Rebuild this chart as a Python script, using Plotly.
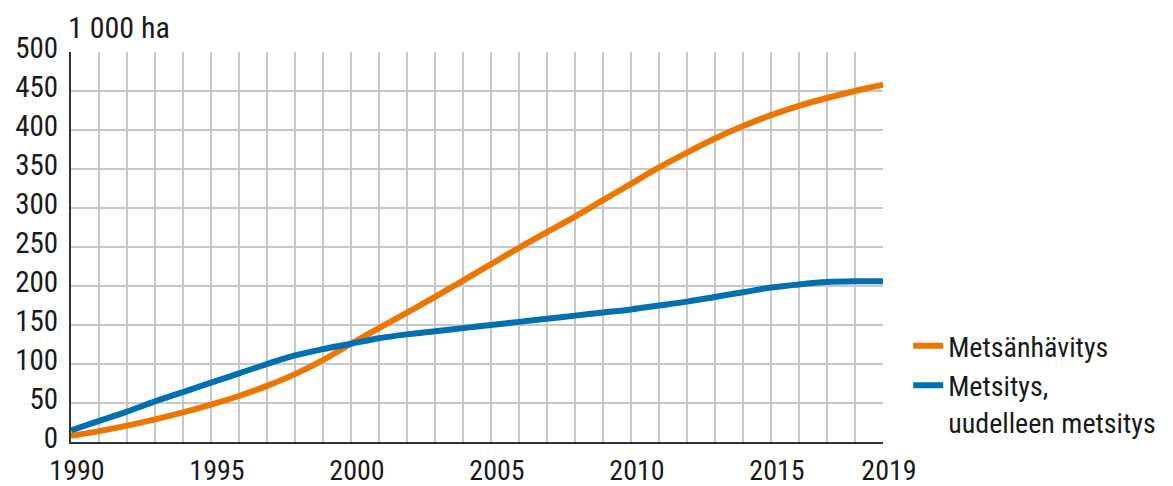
import plotly.graph_objects as go

years = list(range(1990, 2020))
metsanhavitys = [8, 14, 21, 29, 38, 48, 59, 72, 87, 105, 126, 146, 166, 186, 207,
                 228, 249, 269, 289, 310, 331, 352, 371, 389, 405, 419, 431, 441, 450, 458]
metsitys = [15, 27, 39, 52, 64, 76, 88, 100, 111, 119, 126, 133, 138, 142, 146,
            150, 154, 158, 162, 166, 170, 175, 180, 186, 192, 198, 202, 205, 206, 206]
x_labels = {1990: "1990", 1995: "1995", 2000: "2000", 2005: "2005",
            2010: "2010", 2015: "2015", 2019: "2019"}
y_ticks = list(range(0, 501, 50))

FONT = "Liberation Sans Narrow, Roboto Condensed, Arial Narrow, Liberation Sans, sans-serif"

fig = go.Figure()
fig.add_trace(go.Scatter(x=years, y=metsanhavitys, mode="lines", name="Metsänhävitys",
                         line=dict(color="#ec7600", width=6, shape="spline", smoothing=1.0)))
fig.add_trace(go.Scatter(x=years, y=metsitys, mode="lines", name="Metsitys,<br>uudelleen metsitys",
                         line=dict(color="#0070b0", width=6, shape="spline", smoothing=1.0)))

# page body has an 8px margin, so the figure is sized/offset to compensate
fig.update_layout(
    width=1165, height=478,
    margin=dict(l=63, r=282, t=44, b=44),
    plot_bgcolor="white", paper_bgcolor="white",
    font=dict(family=FONT, size=29, color="#1a1a1a"),
    showlegend=True,
    legend=dict(x=1.031, y=0.31, xanchor="left", yanchor="top", valign="top",
                font=dict(family=FONT, size=28, color="#1a1a1a"),
                bgcolor="rgba(0,0,0,0)", itemwidth=30, tracegroupgap=0),
    xaxis=dict(range=[1990, 2019], tickmode="array", tickvals=years,
               ticktext=[x_labels.get(y, "") for y in years],
               tickfont=dict(size=28),
               showgrid=True, gridcolor="#c8c8cc", gridwidth=1.5,
               showline=True, linecolor="#333333", linewidth=2,
               ticks="", zeroline=False, ticklabelstandoff=2, ticklabelshift=6,
               automargin=False),
    yaxis=dict(range=[0, 500], tickmode="array", tickvals=y_ticks,
               showgrid=True, gridcolor="#c8c8cc", gridwidth=1.5,
               showline=True, linecolor="#333333", linewidth=2,
               ticks="", zeroline=False, ticklabelstandoff=5, ticklabelshift=-4,
               automargin=False),
    annotations=[dict(text="1 000 ha", xref="paper", yref="paper", x=0, y=1.0,
                      xanchor="left", yanchor="bottom", showarrow=False, xshift=-5, yshift=5,
                      font=dict(family=FONT, size=30, color="#1a1a1a"))],
)

fig.write_html("out.html")
